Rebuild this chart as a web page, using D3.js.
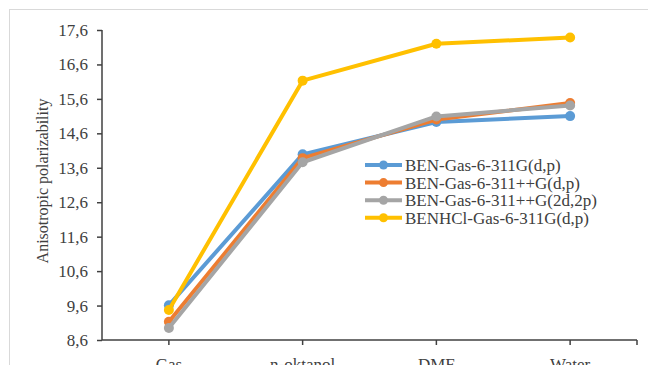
<!DOCTYPE html>
<html><head><meta charset="utf-8">
<script src="https://cdn.jsdelivr.net/npm/d3@7"></script>
<style>html,body{margin:0;padding:0;background:#fff;overflow:hidden}
svg text{font-family:"Liberation Serif","Times New Roman",Times,"DejaVu Serif",serif !important;}</style>
</head><body><svg id="c" width="648" height="365"></svg>
<script>
const categories = ["Gas", "n-oktanol", "DMF", "Water"];
const seriesNames = ["BEN-Gas-6-311G(d,p)", "BEN-Gas-6-311++G(d,p)", "BEN-Gas-6-311++G(2d,2p)", "BENHCl-Gas-6-311G(d,p)"];
const benDp = [9.61, 13.99, 14.93, 15.10];
const benPlusDp = [9.13, 13.88, 15.00, 15.48];
const benPlus2d2p = [8.95, 13.76, 15.09, 15.41];
const benhclDp = [9.47, 16.13, 17.20, 17.38];
const colors = ["#5B9BD5", "#ED7D31", "#A5A5A5", "#FFC000"];
const yTicks = [8.6, 9.6, 10.6, 11.6, 12.6, 13.6, 14.6, 15.6, 16.6, 17.6];
const yTitle = "Anisotropic polarizability";

const allSeries = [benDp, benPlusDp, benPlus2d2p, benhclDp];
const svg = d3.select("#c");
const textColor = "#404040";

// outer border
svg.append("rect").attr("x", 9.5).attr("y", 9.5).attr("width", 800).attr("height", 500)
  .attr("fill", "none").attr("stroke", "#d9d9d9").attr("stroke-width", 1);

const x0 = 102, x1 = 637, yTop = 30, yBot = 340;
const x = d3.scaleBand().domain(categories).range([x0, x1]);
const y = d3.scaleLinear().domain([8.6, 17.6]).range([yBot, yTop]);

// y axis
const yAx = svg.append("g").attr("transform", `translate(${x0},0)`)
  .call(d3.axisLeft(y).tickValues(yTicks).tickSize(5).tickPadding(9).tickFormat(d => d3.format(".1f")(d).replace(".", ",")));
yAx.select(".domain").attr("stroke", textColor).attr("stroke-width", 1.5).attr("d", `M0,${yTop}V${yBot}`);
yAx.selectAll(".tick line").attr("stroke", textColor).attr("stroke-width", 1.5);
yAx.selectAll(".tick text").attr("fill", textColor).style("font-size", "17px");

// x axis
const xAx = svg.append("g").attr("transform", `translate(0,${yBot})`)
  .call(d3.axisBottom(x).tickSize(5).tickPadding(13));
xAx.select(".domain").attr("stroke", textColor).attr("stroke-width", 1.5).attr("d", `M${x0},0H${x1}`);
xAx.selectAll(".tick line").attr("stroke", textColor).attr("stroke-width", 1.5);
xAx.selectAll(".tick text").attr("fill", textColor).style("font-size", "17px");
xAx.append("line").attr("x1", x1).attr("x2", x1).attr("y1", 0).attr("y2", 5)
  .attr("stroke", textColor).attr("stroke-width", 1.5);

// y title
svg.append("text").attr("transform", `translate(48,181) rotate(-90)`)
  .attr("text-anchor", "middle").attr("fill", textColor)
  .style("font-size", "16px").text(yTitle);

// lines
const cx = c => x(c) + x.bandwidth() / 2;
const line = d3.line().x((d, i) => cx(categories[i])).y(d => y(d));
allSeries.forEach((s, k) => {
  const g = svg.append("g");
  g.append("path").datum(s).attr("d", line).attr("fill", "none")
    .attr("stroke", colors[k]).attr("stroke-width", 4).attr("stroke-linejoin", "round").attr("stroke-linecap", "round");
  g.selectAll("circle").data(s).join("circle")
    .attr("cx", (d, i) => cx(categories[i])).attr("cy", d => y(d)).attr("r", 5).attr("fill", colors[k]);
});

// legend
const lg = svg.append("g");
seriesNames.forEach((n, k) => {
  const yy = 165 + k * 17.6;
  lg.append("line").attr("x1", 365).attr("x2", 402).attr("y1", yy).attr("y2", yy)
    .attr("stroke", colors[k]).attr("stroke-width", 4);
  lg.append("circle").attr("cx", 383.5).attr("cy", yy).attr("r", 4.5).attr("fill", colors[k]);
  lg.append("text").attr("x", 405).attr("y", yy).attr("dy", "0.35em").attr("fill", textColor)
    .style("font-size", "17px").text(n);
});
</script></body></html>
